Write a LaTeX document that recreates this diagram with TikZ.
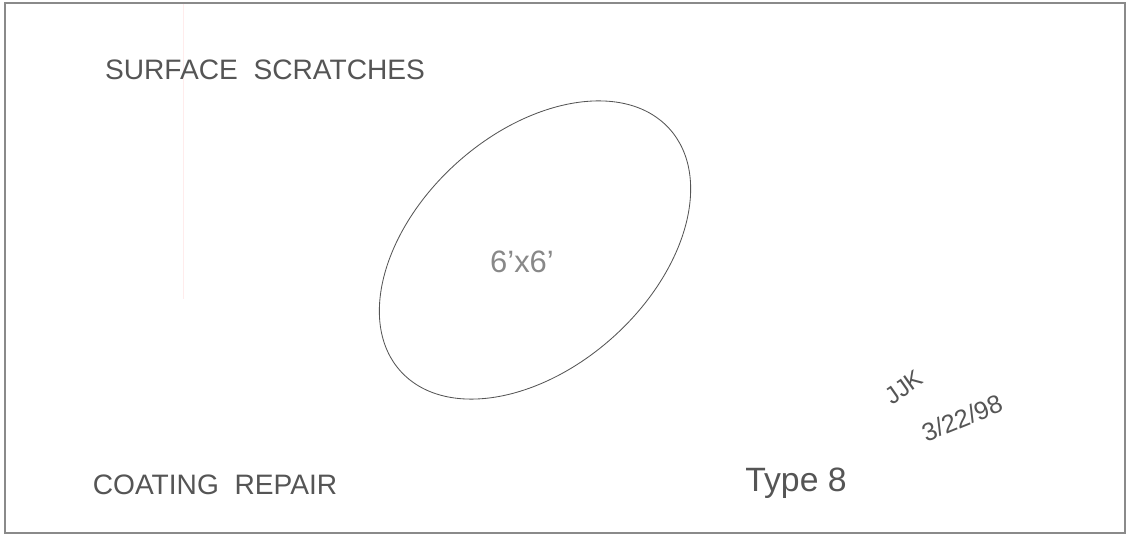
\documentclass[tikz,border=0pt]{standalone}
\usepackage{fontspec}
\setmainfont{Liberation Sans}
\definecolor{ink}{HTML}{555555}
\definecolor{frame}{HTML}{8A8A8A}
\tikzset{
  hand/.style={text=ink, inner sep=0pt},
}
\begin{document}
\begin{tikzpicture}[x=0.025cm, y=0.025cm]
    \useasboundingbox (0,0) rectangle (1128,539);
    % Card frame and margin line
    \draw[frame, line width=0.8pt] (5,6) rectangle (1125,536);
    \draw[pink!30, line width=0.6pt] (183,535) -- (183,240);

    % Scratched area
    \draw[ink, line width=0.6pt] (535,289) ellipse [x radius=181, y radius=117, rotate=42];
    \node[hand, font=\fontsize{22}{22}\selectfont, text=ink!70] (size) at (522,277) {6'x6'};

    % Labels
    \node[hand, font=\fontsize{20}{20}\selectfont] (title) at (265,469) {SURFACE\ \ SCRATCHES};
    \node[hand, font=\fontsize{20}{20}\selectfont] (repair) at (215,54) {COATING\ \ REPAIR};
    \node[hand, font=\fontsize{24}{24}\selectfont] (type) at (796,56) {Type 8};

    % Initials and date
    \node[hand, font=\fontsize{17}{17}\selectfont, rotate=35] (initials) at (904,152) {JJK};
    \node[hand, font=\fontsize{18}{18}\selectfont, rotate=22] (date) at (962,121) {3/22/98};
\end{tikzpicture}
\end{document}
